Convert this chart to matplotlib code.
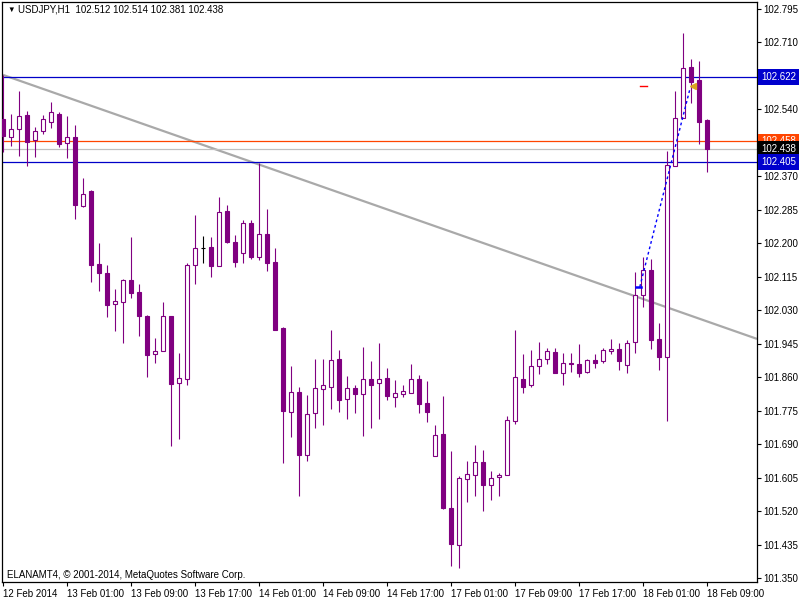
import matplotlib
matplotlib.use("Agg")
import matplotlib.pyplot as plt
from matplotlib.transforms import blended_transform_factory

plt.rcParams['font.family'] = ['Liberation Sans', 'DejaVu Sans']

# ---------------- data ----------------
opens = [
    102.515, 102.469, 102.490, 102.525, 102.462, 102.485, 102.507, 102.528, 102.454, 102.469,
    102.294, 102.332, 102.147, 102.124, 102.046, 102.051, 102.107, 102.076, 102.015, 101.919,
    101.926, 102.015, 101.845, 101.855, 102.145, 102.188, 102.190, 102.142, 102.282, 102.203,
    102.175, 102.251, 102.165, 102.223, 102.152, 101.985, 101.772, 101.822, 101.663, 101.769,
    101.830, 101.835, 101.906, 101.805, 101.833, 101.817, 101.855, 101.845, 101.858, 101.810,
    101.817, 101.820, 101.855, 101.795, 101.660, 101.716, 101.528, 101.434, 101.602, 101.612,
    101.645, 101.586, 101.607, 101.612, 101.749, 101.855, 101.840, 101.888, 101.906, 101.924,
    101.871, 101.896, 101.893, 101.873, 101.904, 101.901, 101.926, 101.931, 101.891, 101.949,
    102.069, 102.132, 101.957, 101.911, 102.396, 102.518, 102.647, 102.614, 102.512]
highs = [
    102.627, 102.528, 102.586, 102.535, 102.495, 102.525, 102.558, 102.533, 102.523, 102.500,
    102.365, 102.334, 102.200, 102.145, 102.084, 102.109, 102.216, 102.096, 102.018, 101.959,
    102.051, 102.016, 101.921, 102.150, 102.271, 102.218, 102.216, 102.317, 102.297, 102.221,
    102.259, 102.259, 102.403, 102.287, 102.188, 101.986, 101.888, 101.835, 101.815, 101.906,
    101.906, 101.980, 101.929, 101.863, 101.840, 101.937, 101.901, 101.947, 101.883, 101.853,
    101.840, 101.893, 101.865, 101.850, 101.739, 101.812, 101.673, 101.609, 101.647, 101.688,
    101.675, 101.622, 101.617, 101.762, 101.980, 101.919, 101.929, 101.949, 101.934, 101.934,
    101.921, 101.921, 101.944, 101.906, 101.919, 101.934, 101.957, 101.947, 101.954, 102.127,
    102.165, 102.160, 101.998, 102.434, 102.586, 102.733, 102.667, 102.662, 102.514]
lows = [
    102.431, 102.447, 102.421, 102.396, 102.419, 102.477, 102.492, 102.444, 102.416, 102.261,
    102.292, 102.102, 102.079, 102.013, 101.977, 101.947, 102.061, 101.964, 101.860, 101.896,
    101.925, 101.685, 101.703, 101.840, 102.096, 102.150, 102.114, 102.141, 102.200, 102.140,
    102.150, 102.160, 102.157, 102.129, 101.979, 101.642, 101.708, 101.559, 101.647, 101.731,
    101.739, 101.779, 101.772, 101.754, 101.769, 101.711, 101.731, 101.754, 101.802, 101.784,
    101.810, 101.819, 101.769, 101.746, 101.659, 101.526, 101.381, 101.376, 101.543, 101.559,
    101.520, 101.548, 101.559, 101.611, 101.741, 101.820, 101.835, 101.868, 101.893, 101.870,
    101.840, 101.873, 101.860, 101.870, 101.883, 101.896, 101.919, 101.878, 101.871, 101.921,
    102.038, 101.931, 101.878, 101.749, 102.395, 102.517, 102.556, 102.452, 102.381]
closes = [
    102.472, 102.490, 102.523, 102.457, 102.485, 102.515, 102.533, 102.452, 102.469, 102.297,
    102.325, 102.145, 102.124, 102.043, 102.053, 102.107, 102.074, 102.015, 101.916, 101.926,
    102.015, 101.843, 101.858, 102.145, 102.188, 102.188, 102.142, 102.279, 102.203, 102.152,
    102.251, 102.165, 102.223, 102.150, 101.980, 101.774, 101.822, 101.663, 101.767, 101.833,
    101.840, 101.904, 101.802, 101.833, 101.817, 101.855, 101.840, 101.855, 101.812, 101.820,
    101.825, 101.855, 101.792, 101.772, 101.713, 101.528, 101.437, 101.604, 101.614, 101.645,
    101.586, 101.604, 101.612, 101.751, 101.860, 101.835, 101.888, 101.906, 101.926, 101.871,
    101.896, 101.893, 101.871, 101.904, 101.896, 101.929, 101.931, 101.901, 101.947, 102.069,
    102.132, 101.954, 101.911, 102.398, 102.518, 102.644, 102.609, 102.507, 102.438]

xtick_labels = ['12 Feb 2014', '13 Feb 01:00', '13 Feb 09:00', '13 Feb 17:00',
                '14 Feb 01:00', '14 Feb 09:00', '14 Feb 17:00', '17 Feb 01:00',
                '17 Feb 09:00', '17 Feb 17:00', '18 Feb 01:00', '18 Feb 09:00']
xtick_bars = [0, 8, 16, 24, 32, 40, 48, 56, 64, 72, 80, 88]

ytick_values = [101.350, 101.435, 101.520, 101.605, 101.690, 101.775, 101.860, 101.945,
                102.030, 102.115, 102.200, 102.285, 102.370, 102.455, 102.540, 102.625,
                102.710, 102.795]
ytick_hidden = [102.455, 102.625]

trend_x = [0, 94.25]
trend_y = [102.627, 101.957]

levels = [102.622, 102.458, 102.438, 102.405]
level_colors = ['#0000C8', '#FF4500', '#C0C0C0', '#0000C8']
label_bg = ['#0000CD', '#FF4500', '#000000', '#0000CD']

trade_x = [79.6, 85.9]
trade_y = [102.089, 102.594]
sl_x = [79.6, 80.5]
sl_y = [102.599, 102.599]
close_marker = (86.25, 102.599)

header = "USDJPY,H1  102.512 102.514 102.381 102.438"
footer = "ELANAMT4, \u00a9 2001-2014, MetaQuotes Software Corp."

# ---------------- figure ----------------
W, H = 800, 600
fig = plt.figure(figsize=(8, 6), dpi=100)
ax = fig.add_axes([2 / W, 1 - 582 / H, 755 / W, 580 / H])
ax.set_xlim(-0.125, 94.25)
ax.set_ylim(101.340, 102.812)

purple = '#800080'
n = len(opens)
for i in range(n):
    o, h, l, c = opens[i], highs[i], lows[i], closes[i]
    if o == c:
        ax.vlines(i, l, h, color='black', lw=0.8, zorder=3)
        ax.hlines(c, i - 0.3, i + 0.3, color='black', lw=0.8, zorder=3)
        continue
    ax.vlines(i, l, h, color=purple, lw=0.8, zorder=3)
    bottom = min(o, c)
    height = abs(c - o)
    if c > o:
        ax.bar(i, height, bottom=bottom, width=0.55, facecolor='white',
               edgecolor=purple, linewidth=0.8, zorder=4)
    else:
        ax.bar(i, height, bottom=bottom, width=0.55, facecolor=purple,
               edgecolor=purple, linewidth=0.8, zorder=4)

# trend line
ax.plot(trend_x, trend_y, color='#A9A9A9', lw=1.6, zorder=2, solid_capstyle='butt')

# horizontal levels
for lv, col in zip(levels, level_colors):
    ax.axhline(lv, color=col, lw=0.9, zorder=2.5)

# trade objects
ax.plot(trade_x, trade_y, color='#0000FF', lw=1.0, linestyle=(0, (2, 2)), zorder=5)
ax.plot(sl_x, sl_y, color='#FF0000', lw=1.0, zorder=5)
ax.plot([79.1, 79.7], [trade_y[0], trade_y[0]], color='#0000FF', lw=1.8, zorder=5)
ax.plot(close_marker[0], close_marker[1], marker='<', color='#DAA520', ms=5, zorder=6,
        linestyle='none')

# axes styling
for sp in ax.spines.values():
    sp.set_color('black')
    sp.set_linewidth(0.9)

ax.yaxis.tick_right()
ax.set_yticks(ytick_values)
ax.set_yticklabels(['' if v in ytick_hidden else f'{v:.3f}' for v in ytick_values])
ax.tick_params(axis='y', direction='out', length=3, width=0.8, pad=1.5,
               labelsize=7, colors='black')

ax.set_xticks(xtick_bars)
ax.set_xticklabels(xtick_labels, ha='left')
ax.tick_params(axis='x', direction='out', length=3, width=0.8, pad=2,
               labelsize=7, colors='black')
for lbl in ax.get_xticklabels():
    lbl.set_horizontalalignment('left')

# right-axis price boxes
tr = blended_transform_factory(ax.transAxes, ax.transData)
for lv, bg in zip(levels, label_bg):
    ax.text(1.0 + 4 / 755, lv, f'{lv:.3f}', transform=tr, ha='left', va='center',
            fontsize=7, color='white', zorder=10, clip_on=False,
            bbox=dict(boxstyle='square,pad=0.3', fc=bg, ec='none'))

# header and footer
fig.text(7 / W, 1 - 10 / H, '\u25bc', fontsize=5.5, color='black', va='center', ha='left')
fig.text(18 / W, 1 - 10 / H, header, fontsize=7, color='black', va='center', ha='left')
fig.text(7 / W, 1 - 575 / H, footer, fontsize=7, color='black', va='center', ha='left')

fig.savefig('out.png', dpi=100, facecolor='white')
